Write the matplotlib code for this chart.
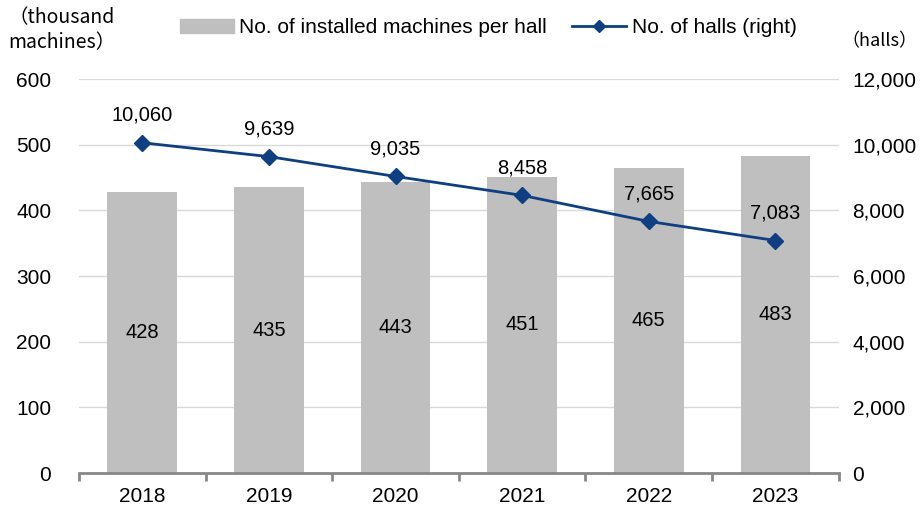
import numpy as np
from matplotlib import pyplot as plt
from matplotlib.lines import Line2D
from matplotlib.patches import Patch

years = ["2018", "2019", "2020", "2021", "2022", "2023"]
machines = [428, 435, 443, 451, 465, 483]
halls = [10060, 9639, 9035, 8458, 7665, 7083]

plt.rcParams['font.family'] = ['Liberation Sans', 'DejaVu Sans']
plt.rcParams['font.size'] = 15

bar_col = "#bfbfbf"
line_col = "#0f3f80"

fig = plt.figure(figsize=(9.23, 5.07), dpi=100)
ax = fig.add_axes([0.0856, 0.067, 0.823, 0.777])
ax2 = ax.twinx()

x = np.arange(len(years))
ax.bar(x, machines, width=0.55, color=bar_col, zorder=2)
for xi, v in zip(x, machines):
    ax.text(xi, v / 2, str(v), ha="center", va="center", fontsize=14.5)

ax.set_xlim(-0.5, len(years) - 0.5)
ax.set_ylim(0, 600)
ax.set_yticks(range(0, 601, 100))
ax.yaxis.grid(True, color="#d9d9d9", lw=1, zorder=0)
ax.set_axisbelow(True)
ax.set_xticks(x)
ax.set_xticklabels(years)
ax.set_xticks(np.arange(-0.5, len(years), 1), minor=True)
ax.tick_params(axis="x", which="major", length=0, pad=10)
ax.tick_params(axis="x", which="minor", length=6, width=2, color="#888888")
ax.tick_params(axis="y", length=0, pad=20)
for s in ["top", "left", "right"]:
    ax.spines[s].set_visible(False)
ax.spines["bottom"].set_color("#888888")
ax.spines["bottom"].set_linewidth(2)
ax.spines["bottom"].set_zorder(5)

ax2.plot(x, halls, color=line_col, lw=2, marker="D", markersize=8, zorder=4)
for xi, v in zip(x, halls):
    ax2.annotate(f"{v:,}", (xi, v), xytext=(0, 13), textcoords="offset points",
                 ha="center", va="bottom", fontsize=14.5)
ax2.set_ylim(0, 12000)
ax2.set_yticks(range(0, 12001, 2000))
ax2.yaxis.set_major_formatter(plt.FuncFormatter(lambda v, p: f"{int(v):,}"))
ax2.tick_params(axis="y", length=0, pad=10)
for s in ["top", "left", "right", "bottom"]:
    ax2.spines[s].set_visible(False)

fig.text(0.009, 0.985, "（thousand\nmachines）", ha="left", va="top", fontsize=14,
         family=["Noto Sans CJK JP", "DejaVu Sans"], linespacing=1.25)
fig.text(0.994, 0.918, "（halls）", ha="right", va="center", fontsize=13,
         family=["Noto Sans CJK JP", "DejaVu Sans"])

handles = [Patch(color=bar_col),
           Line2D([0], [0], color=line_col, lw=2, marker="D", markersize=6)]
fig.legend(handles, ["No. of installed machines per hall", "No. of halls (right)"],
           loc="center", bbox_to_anchor=(0.529, 0.945), ncol=2, frameon=False,
           fontsize=15, handlelength=2.6, columnspacing=1.2, handletextpad=0.25)

fig.savefig("out.png", dpi=100)
